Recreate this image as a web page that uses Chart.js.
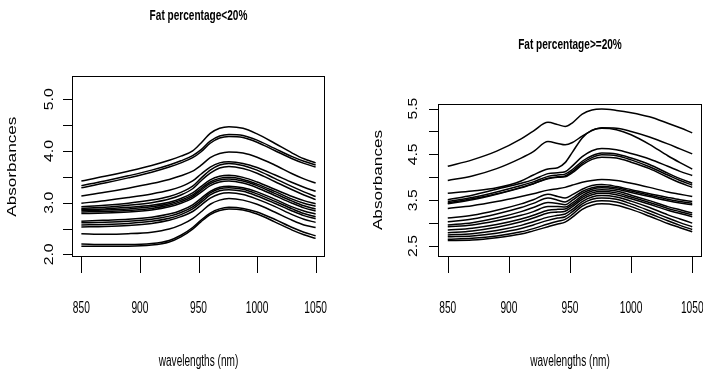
<!DOCTYPE html>
<html>
<head>
<meta charset="utf-8">
<script src="https://cdn.jsdelivr.net/npm/chart.js@4"></script>
<style>
  html, body { margin: 0; padding: 0; background: #fff; }
  #wrap { position: relative; width: 703px; height: 382px; overflow: hidden; }
  canvas { position: absolute; top: 0; }
  #c1 { left: 0; }
  #c2 { left: 352px; }
</style>
</head>
<body>
<div id="wrap">
  <canvas id="c1" width="352" height="382"></canvas>
  <canvas id="c2" width="351" height="382"></canvas>
</div>
<script>
(function () {
    'use strict';

    const wavesLow  = [850, 870, 890, 910, 925, 935, 945, 952, 960, 968, 976, 988, 1000, 1015, 1030, 1040, 1050];
    const wavesHigh = [850, 870, 890, 910, 920, 932, 940, 946, 952, 960, 968, 976, 988, 1000, 1015, 1030, 1040, 1050];

    // absorbance spectra, fat < 20%
    const lowFatSpectra = [
        [3.42, 3.51, 3.61, 3.72, 3.82, 3.90, 4.00, 4.15, 4.34, 4.44, 4.47, 4.44, 4.33, 4.15, 3.96, 3.85, 3.77],
        [3.33, 3.42, 3.52, 3.63, 3.73, 3.81, 3.91, 4.02, 4.19, 4.29, 4.32, 4.30, 4.21, 4.05, 3.89, 3.80, 3.73],
        [3.29, 3.38, 3.48, 3.59, 3.69, 3.77, 3.87, 3.98, 4.15, 4.25, 4.28, 4.26, 4.17, 4.01, 3.85, 3.76, 3.69],
        [3.13, 3.20, 3.28, 3.37, 3.45, 3.52, 3.61, 3.72, 3.87, 3.95, 3.98, 3.96, 3.88, 3.73, 3.56, 3.46, 3.38],
        [2.99, 3.04, 3.10, 3.17, 3.24, 3.31, 3.42, 3.55, 3.69, 3.77, 3.79, 3.76, 3.68, 3.54, 3.39, 3.30, 3.22],
        [2.92, 2.95, 2.99, 3.05, 3.12, 3.20, 3.32, 3.47, 3.63, 3.73, 3.76, 3.72, 3.63, 3.47, 3.31, 3.21, 3.12],
        [2.89, 2.91, 2.95, 3.00, 3.07, 3.15, 3.27, 3.42, 3.57, 3.67, 3.70, 3.66, 3.57, 3.41, 3.25, 3.15, 3.06],
        [2.87, 2.88, 2.91, 2.95, 3.01, 3.08, 3.19, 3.31, 3.44, 3.51, 3.53, 3.49, 3.40, 3.26, 3.12, 3.04, 2.98],
        [2.85, 2.86, 2.88, 2.92, 2.98, 3.05, 3.15, 3.27, 3.40, 3.47, 3.49, 3.45, 3.36, 3.22, 3.07, 2.99, 2.93],
        [2.82, 2.83, 2.85, 2.89, 2.95, 3.02, 3.12, 3.24, 3.37, 3.44, 3.46, 3.42, 3.33, 3.18, 3.03, 2.94, 2.88],
        [2.79, 2.80, 2.82, 2.86, 2.92, 2.99, 3.09, 3.20, 3.33, 3.40, 3.42, 3.38, 3.29, 3.14, 2.99, 2.90, 2.84],
        [2.64, 2.66, 2.68, 2.72, 2.78, 2.85, 2.96, 3.08, 3.22, 3.30, 3.32, 3.29, 3.21, 3.07, 2.92, 2.84, 2.78],
        [2.61, 2.62, 2.64, 2.68, 2.74, 2.81, 2.92, 3.04, 3.19, 3.27, 3.29, 3.26, 3.17, 3.03, 2.88, 2.79, 2.73],
        [2.57, 2.58, 2.60, 2.64, 2.70, 2.77, 2.88, 3.00, 3.15, 3.23, 3.25, 3.22, 3.13, 2.99, 2.84, 2.75, 2.69],
        [2.53, 2.54, 2.56, 2.60, 2.66, 2.73, 2.83, 2.95, 3.09, 3.17, 3.19, 3.16, 3.07, 2.93, 2.77, 2.68, 2.62],
        [2.40, 2.39, 2.40, 2.43, 2.49, 2.57, 2.69, 2.82, 2.97, 3.05, 3.08, 3.05, 2.97, 2.82, 2.66, 2.57, 2.52],
        [2.20, 2.19, 2.19, 2.21, 2.27, 2.37, 2.52, 2.66, 2.80, 2.88, 2.91, 2.89, 2.82, 2.68, 2.52, 2.43, 2.36],
        [2.16, 2.16, 2.16, 2.18, 2.24, 2.34, 2.49, 2.63, 2.77, 2.85, 2.88, 2.86, 2.78, 2.63, 2.47, 2.38, 2.31]
    ];

    // absorbance spectra, fat >= 20%
    const highFatSpectra = [
        [4.24, 4.38, 4.57, 4.84, 5.01, 5.20, 5.15, 5.11, 5.19, 5.38, 5.47, 5.49, 5.46, 5.41, 5.32, 5.18, 5.08, 4.97],
        [3.93, 4.03, 4.19, 4.42, 4.56, 4.78, 4.74, 4.71, 4.76, 4.90, 5.02, 5.08, 5.07, 5.00, 4.88, 4.73, 4.62, 4.51],
        [3.65, 3.70, 3.77, 3.92, 4.05, 4.18, 4.21, 4.32, 4.55, 4.86, 5.03, 5.07, 5.04, 4.93, 4.72, 4.47, 4.32, 4.18],
        [3.51, 3.61, 3.74, 3.87, 3.95, 4.08, 4.10, 4.12, 4.25, 4.45, 4.58, 4.63, 4.60, 4.52, 4.40, 4.24, 4.13, 4.04],
        [3.47, 3.56, 3.68, 3.82, 3.90, 4.02, 4.05, 4.07, 4.17, 4.35, 4.47, 4.53, 4.51, 4.42, 4.28, 4.09, 3.97, 3.87],
        [3.44, 3.53, 3.64, 3.78, 3.86, 3.97, 4.00, 4.01, 4.10, 4.27, 4.39, 4.44, 4.42, 4.33, 4.19, 4.00, 3.88, 3.78],
        [3.42, 3.51, 3.63, 3.77, 3.86, 3.98, 4.01, 4.03, 4.13, 4.31, 4.43, 4.49, 4.47, 4.38, 4.23, 4.05, 3.93, 3.83],
        [3.32, 3.38, 3.47, 3.58, 3.64, 3.72, 3.75, 3.78, 3.83, 3.89, 3.93, 3.95, 3.93, 3.87, 3.78, 3.68, 3.63, 3.58],
        [3.11, 3.17, 3.28, 3.42, 3.51, 3.63, 3.58, 3.55, 3.62, 3.74, 3.82, 3.84, 3.80, 3.73, 3.64, 3.56, 3.51, 3.47],
        [3.03, 3.09, 3.20, 3.34, 3.43, 3.55, 3.50, 3.46, 3.55, 3.69, 3.77, 3.80, 3.77, 3.70, 3.61, 3.52, 3.47, 3.43],
        [2.96, 3.01, 3.11, 3.25, 3.34, 3.45, 3.43, 3.40, 3.50, 3.65, 3.74, 3.77, 3.74, 3.67, 3.58, 3.49, 3.44, 3.40],
        [2.92, 2.96, 3.05, 3.17, 3.25, 3.36, 3.36, 3.35, 3.44, 3.60, 3.70, 3.73, 3.70, 3.61, 3.49, 3.36, 3.29, 3.22],
        [2.85, 2.89, 2.97, 3.09, 3.17, 3.28, 3.30, 3.31, 3.40, 3.56, 3.66, 3.69, 3.66, 3.57, 3.45, 3.32, 3.25, 3.18],
        [2.79, 2.83, 2.91, 3.03, 3.11, 3.22, 3.24, 3.26, 3.36, 3.52, 3.62, 3.65, 3.62, 3.53, 3.41, 3.28, 3.21, 3.14],
        [2.74, 2.77, 2.84, 2.95, 3.03, 3.13, 3.17, 3.20, 3.30, 3.47, 3.57, 3.60, 3.57, 3.48, 3.34, 3.18, 3.09, 3.00],
        [2.70, 2.72, 2.78, 2.88, 2.96, 3.06, 3.11, 3.14, 3.25, 3.42, 3.52, 3.55, 3.52, 3.42, 3.27, 3.11, 3.01, 2.92],
        [2.65, 2.67, 2.72, 2.81, 2.88, 2.98, 3.04, 3.08, 3.19, 3.37, 3.46, 3.49, 3.46, 3.36, 3.21, 3.05, 2.95, 2.86],
        [2.62, 2.63, 2.68, 2.76, 2.83, 2.92, 2.98, 3.02, 3.13, 3.30, 3.39, 3.42, 3.39, 3.30, 3.15, 2.99, 2.90, 2.81]
    ];

    const xTicks       = [850, 900, 950, 1000, 1050];
    const xTickLabels  = ['850', '900', '950', '1000', '1050'];
    const lowYTicks    = [2.0, 2.5, 3.0, 3.5, 4.0, 4.5, 5.0];
    const lowYLabels   = ['2.0', '', '3.0', '', '4.0', '', '5.0'];
    const highYTicks   = [2.5, 3.0, 3.5, 4.0, 4.5, 5.0, 5.5];
    const highYLabels  = ['2.5', '', '3.5', '', '4.5', '', '5.5'];

    const FONT = '"Liberation Sans", Arial, Helvetica, sans-serif';

    // text with a squeeze/stretch along its own direction
    function drawText(ctx, text, x, y, size, weight, sx, rot) {
        ctx.save();
        ctx.translate(x, y);
        if (rot) ctx.rotate(rot);
        ctx.scale(sx, 1);
        ctx.font = `${weight} ${size}px ${FONT}`;
        ctx.textAlign = 'center';
        ctx.textBaseline = 'alphabetic';
        ctx.fillStyle = '#000';
        ctx.fillText(text, 0, 0);
        ctx.restore();
    }

    // R style frame: box, outward ticks, labels and titles
    const rFrame = {
        id: 'rFrame',
        afterDraw(chart, args, o) {
            const { ctx, chartArea: a, scales: { x, y } } = chart;
            const cx = (a.left + a.right) / 2;
            ctx.save();
            ctx.strokeStyle = '#000';
            ctx.lineWidth = 1;
            ctx.strokeRect(a.left + 0.5, a.top + 0.5, a.right - a.left - 1, a.bottom - a.top - 1);

            ctx.beginPath();
            o.yTicks.forEach(v => {
                const py = Math.round(y.getPixelForValue(v)) + 0.5;
                ctx.moveTo(a.left - 9, py);
                ctx.lineTo(a.left + 0.5, py);
            });
            xTicks.forEach(v => {
                const px = Math.round(x.getPixelForValue(v)) + 0.5;
                ctx.moveTo(px, a.bottom - 0.5);
                ctx.lineTo(px, a.bottom + 16);
            });
            ctx.stroke();
            ctx.restore();

            o.yTicks.forEach((v, i) => {
                if (o.yLabels[i]) drawText(ctx, o.yLabels[i], o.yLabelX, y.getPixelForValue(v), 12.5, 'normal', 1.26, -Math.PI / 2);
            });
            xTicks.forEach((v, i) => {
                drawText(ctx, xTickLabels[i], x.getPixelForValue(v), 313, 17, 'normal', 0.6, 0);
            });
            drawText(ctx, o.title, cx, o.titleY, 14, 'bold', 0.72, 0);
            drawText(ctx, 'wavelengths (nm)', cx, 365.5, 16, 'normal', 0.63, 0);
            drawText(ctx, 'Absorbances', o.yTitleX, o.yTitleY, 13, 'normal', 1.32, -Math.PI / 2);
        }
    };

    function makeChart(id, waves, spectra, yMin, yMax, padding, frame) {
        const datasets = spectra.map(s => ({
            data: waves.map((w, i) => ({ x: w, y: s[i] })),
            borderColor: '#000',
            borderWidth: 1.5,
            pointRadius: 0,
            fill: false,
            cubicInterpolationMode: 'monotone'
        }));
        return new Chart(document.getElementById(id), {
            type: 'line',
            data: { datasets },
            options: {
                responsive: false,
                animation: false,
                devicePixelRatio: 1,
                layout: { padding },
                plugins: { legend: { display: false }, tooltip: { enabled: false }, rFrame: frame },
                scales: {
                    x: { type: 'linear', display: false, min: 842, max: 1058 },
                    y: { type: 'linear', display: false, min: yMin, max: yMax }
                }
            },
            plugins: [rFrame]
        });
    }

    makeChart('c1', wavesLow, lowFatSpectra, 1.95, 5.45,
        { left: 72, right: 27, top: 76, bottom: 125 },
        { title: 'Fat percentage<20%', titleY: 19.5, yTicks: lowYTicks, yLabels: lowYLabels,
          yLabelX: 52.7, yTitleX: 16, yTitleY: 166.7 });

    makeChart('c2', wavesHigh, highFatSpectra, 2.26, 5.60,
        { left: 86, right: 1, top: 104, bottom: 125 },
        { title: 'Fat percentage>=20%', titleY: 49.3, yTicks: highYTicks, yLabels: highYLabels,
          yLabelX: 64.7, yTitleX: 30, yTitleY: 180 });
})();
</script>
</body>
</html>
